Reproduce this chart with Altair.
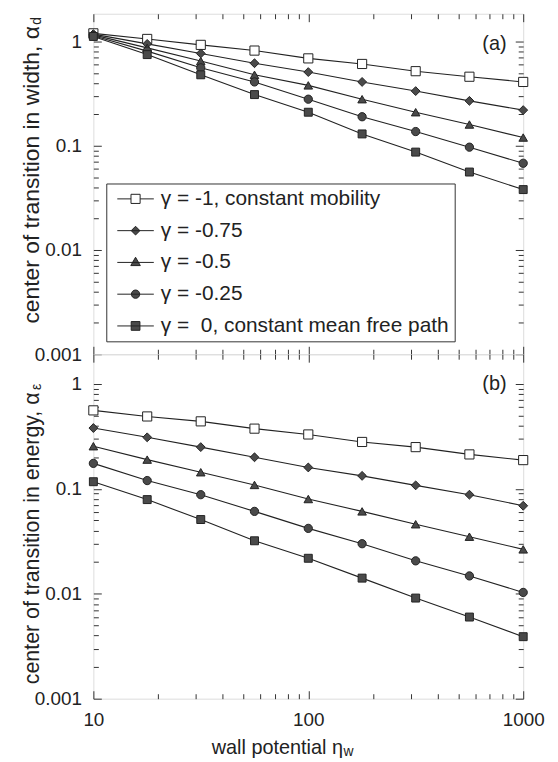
import altair as alt
import pandas as pd

# ---- data ----
eta = [10, 17.8, 31.6, 56.2, 100, 178, 316, 562, 1000]
series = ["γ = -1, constant mobility", "γ = -0.75", "γ = -0.5", "γ = -0.25",
          "γ = \u00a00, constant mean free path"]

# (a) center of transition in width
width_m100 = [1.20, 1.06, 0.93, 0.82, 0.69, 0.61, 0.52, 0.46, 0.41]
width_m075 = [1.18, 0.95, 0.77, 0.62, 0.51, 0.41, 0.335, 0.27, 0.22]
width_m050 = [1.16, 0.87, 0.65, 0.48, 0.38, 0.28, 0.21, 0.16, 0.12]
width_m025 = [1.14, 0.81, 0.56, 0.41, 0.28, 0.19, 0.137, 0.097, 0.068]
width_p000 = [1.12, 0.75, 0.48, 0.31, 0.21, 0.13, 0.087, 0.056, 0.038]

# (b) center of transition in energy
energy_m100 = [0.56, 0.49, 0.44, 0.375, 0.33, 0.28, 0.25, 0.213, 0.188]
energy_m075 = [0.38, 0.31, 0.25, 0.20, 0.16, 0.133, 0.108, 0.088, 0.069]
energy_m050 = [0.255, 0.19, 0.144, 0.109, 0.08, 0.061, 0.046, 0.035, 0.0265]
energy_m025 = [0.175, 0.12, 0.088, 0.061, 0.042, 0.030, 0.0206, 0.0148, 0.0103]
energy_p000 = [0.117, 0.079, 0.051, 0.032, 0.0218, 0.0141, 0.0091, 0.006, 0.0039]

x_major = [10, 100, 1000]
x_minor = [20, 30, 40, 50, 60, 70, 80, 90, 200, 300, 400, 500, 600, 700, 800, 900]
y_major = [0.001, 0.01, 0.1, 1]
y_minor = [0.002, 0.003, 0.004, 0.005, 0.006, 0.007, 0.008, 0.009,
           0.02, 0.03, 0.04, 0.05, 0.06, 0.07, 0.08, 0.09,
           0.2, 0.3, 0.4, 0.5, 0.6, 0.7, 0.8, 0.9]


def frame(cols):
    rows = []
    for s, vals in zip(series, cols):
        for e, v in zip(eta, vals):
            rows.append({"eta": e, "v": v, "series": s})
    return pd.DataFrame(rows)


df_a = frame([width_m100, width_m075, width_m050, width_m025, width_p000])
df_b = frame([energy_m100, energy_m075, energy_m050, energy_m025, energy_p000])
one = pd.DataFrame({"k": [0]})

FONT = "Liberation Sans"
INK = "#222222"
W = 433

shapes = ["square", "diamond", "triangle-up", "circle", "square"]
fills = ["white", "#4a4a4a", "#4a4a4a", "#4a4a4a", "#4a4a4a"]
strokes = [INK, INK, INK, INK, INK]
sizes = [85, 64, 70, 64, 75]
legend_paths = [
    "M-4.6,0H-1.15M1.15,0H4.6M-1.15,-1.15H1.15V1.15H-1.15Z",
    "M-4.6,0H4.6M-1.1,0L0,-1.1L1.1,0L0,1.1Z",
    "M-4.6,0H4.6M-1.2,0.8L0,-1.3L1.2,0.8Z",
    "M-4.6,0H4.6M-1.05,0A1.05,1.05,0,1,0,1.05,0A1.05,1.05,0,1,0,-1.05,0Z",
    "M-4.6,0H4.6M-1.1,-1.1H1.1V1.1H-1.1Z",
]


def panel(df, ymax, h, ytitle, title_size, title_y, sub_text, sub_y, tag, tag_y, bottom, legend):
    xs = alt.Scale(type="log", domain=[10, 1000], nice=False)
    ys = alt.Scale(type="log", domain=[0.001, ymax], nice=False)
    base = alt.Chart(df)
    single = alt.Chart(one)

    def tick_layer(xaxis, yaxis):
        return base.mark_point(opacity=0).encode(
            x=alt.X("eta:Q", scale=xs, axis=xaxis),
            y=alt.Y("v:Q", scale=ys, axis=yaxis),
        )

    common = dict(domain=False, grid=False, tickColor="#333333", tickWidth=1)
    bottom_major = alt.Axis(
        orient="bottom", values=x_major, tickSize=8, offset=-8, labels=bottom,
        labelFlush=False, format="d", labelFont=FONT, labelFontSize=19,
        labelPadding=12, labelColor=INK,
        title=("wall potential η" if bottom else None),
        titleFont=FONT, titleFontSize=20, titleFontWeight="normal", titleColor=INK,
        titleX=251, titleY=63, titleAlign="right", titleBaseline="alphabetic",
        **common)
    left_major = alt.Axis(
        orient="left", values=y_major, tickSize=8, offset=-8, format="~g",
        labelFont=FONT, labelFontSize=19, labelPadding=12, labelColor=INK,
        title=ytitle, titleFont=FONT, titleFontSize=title_size, titleFontWeight="normal",
        titleColor=INK, titleAngle=270, titleAlign="right", titleBaseline="alphabetic",
        titleX=-63, titleY=title_y, **common)
    bottom_minor = alt.Axis(orient="bottom", values=x_minor, tickSize=5, offset=-5,
                            labels=False, title=None, **common)
    left_minor = alt.Axis(orient="left", values=y_minor, tickSize=5, offset=-5,
                          labels=False, title=None, **common)
    top_major = alt.Axis(orient="top", values=x_major, tickSize=8, offset=-8,
                         labels=False, title=None, **common)
    right_major = alt.Axis(orient="right", values=y_major, tickSize=8, offset=-8,
                           labels=False, title=None, **common)
    top_minor = alt.Axis(orient="top", values=x_minor, tickSize=5, offset=-5,
                         labels=False, title=None, **common)
    right_minor = alt.Axis(orient="right", values=y_minor, tickSize=5, offset=-5,
                           labels=False, title=None, **common)

    lines = base.mark_line(color=INK, strokeWidth=1.1).encode(
        x=alt.X("eta:Q", scale=xs, axis=None),
        y=alt.Y("v:Q", scale=ys, axis=None),
        detail="series:N",
    )
    points = base.mark_point(filled=True, opacity=1, stroke=INK, strokeWidth=1).encode(
        x=alt.X("eta:Q", scale=xs, axis=None),
        y=alt.Y("v:Q", scale=ys, axis=None),
        shape=alt.Shape("series:N", scale=alt.Scale(domain=series, range=shapes), legend=None),
        fill=alt.Fill("series:N", scale=alt.Scale(domain=series, range=fills), legend=None),
        size=alt.Size("series:N", scale=alt.Scale(domain=series, range=sizes), legend=None),
    )
    tagtext = single.mark_text(font=FONT, fontSize=20, color=INK, align="center",
                               baseline="middle").encode(
        x=alt.value(404), y=alt.value(tag_y), text=alt.value(tag))
    sub = single.mark_text(font=FONT, fontSize=14, color=INK, align="left",
                           baseline="alphabetic", angle=270).encode(
        x=alt.value(-53), y=alt.value(sub_y), text=alt.value(sub_text))

    layers = [
        tick_layer(bottom_major, left_major),
        tick_layer(bottom_minor, left_minor),
        tick_layer(top_major, right_major),
        tick_layer(top_minor, right_minor),
        lines, points, tagtext, sub,
    ]
    if bottom:
        xsub = single.mark_text(font=FONT, fontSize=14, color=INK, align="left",
                                baseline="alphabetic").encode(
            x=alt.value(252), y=alt.value(h + 58), text=alt.value("w"))
        layers.append(xsub)
    if legend:
        leg = alt.Legend(
            orient="none", legendX=13, legendY=171, title=None,
            labelFont=FONT, labelFontSize=21, labelColor=INK, labelLimit=400,
            symbolSize=64, symbolStrokeWidth=1,
            symbolOffset=14, labelOffset=15, rowPadding=10,
            padding=5, strokeColor="#333333", fillColor="white")
        legend_layer = base.transform_filter("false").mark_point(
            filled=True, opacity=1, strokeWidth=1).encode(
            x=alt.X("eta:Q", scale=xs, axis=None),
            y=alt.Y("v:Q", scale=ys, axis=None),
            shape=alt.Shape("series:N", scale=alt.Scale(domain=series, range=legend_paths), legend=leg),
            fill=alt.Fill("series:N", scale=alt.Scale(domain=series, range=fills), legend=leg),
            stroke=alt.Stroke("series:N", scale=alt.Scale(domain=series, range=strokes), legend=leg),
        )
        layers.append(legend_layer)

    return alt.layer(*layers).resolve_axis(x="independent", y="independent").resolve_scale(
        shape="independent", fill="independent", size="independent",
        stroke="independent").properties(width=W, height=h)


pa = panel(df_a, 1.85, 343, "center of transition in width, α", 23, 12, "d", 11, "(a)", 31, False, True)
pb = panel(df_b, 1.92, 347, "center of transition in energy, α", 21.5, 38, "ε", 36, "(b)", 30, True, False)

chart = alt.vconcat(pa, pb, spacing=0, bounds="flush").properties(
    padding={"left": 12, "top": 2, "right": 5, "bottom": 0}
).configure_view(stroke="#333333", strokeWidth=1).configure(font=FONT)

chart.save("out.html", embed_options={"renderer": "svg", "actions": False})
